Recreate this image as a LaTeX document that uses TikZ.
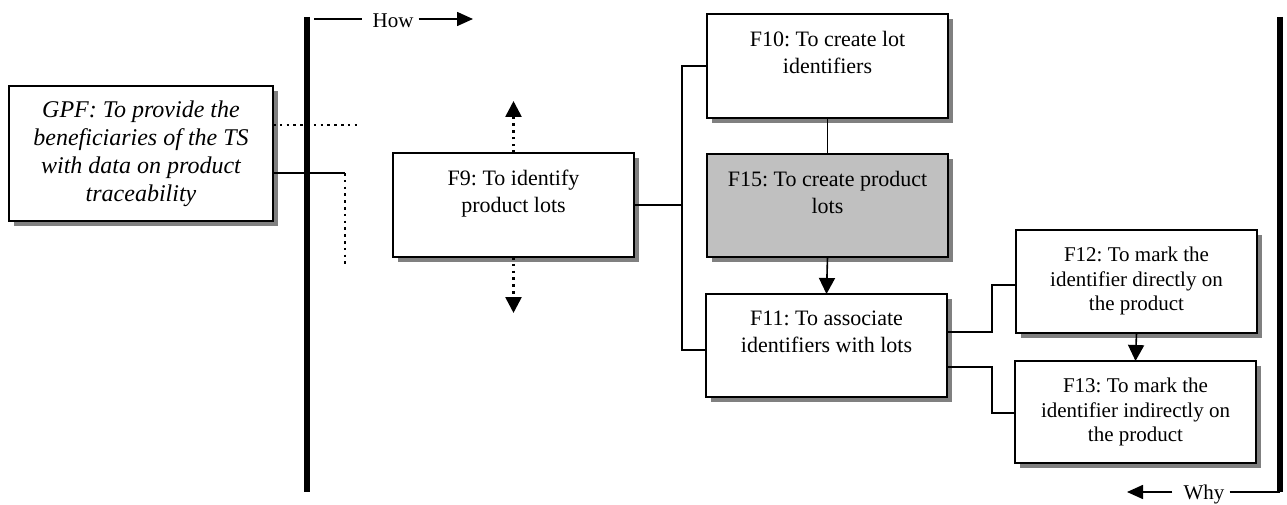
\documentclass[tikz,border=0pt]{standalone}
\usepackage{fontspec}
\setmainfont{Liberation Serif}
\usetikzlibrary{arrows.meta,shadows,calc}
\definecolor{shadowgray}{RGB}{128,128,128}
\definecolor{boxgray}{RGB}{192,192,192}
\frenchspacing
\begin{document}
\begin{tikzpicture}[x=1pt,y=-1pt,
  box/.style={draw, line width=1.8pt, fill=white, inner sep=0pt, outer sep=0pt,
    minimum width=241pt, minimum height=103pt,
    drop shadow={shadow xshift=5pt, shadow yshift=-5pt, fill=shadowgray, opacity=1}},
  txt/.style={align=center, inner sep=0pt, font=\fontsize{22}{27}\selectfont},
  smalltxt/.style={align=center, inner sep=0pt, font=\fontsize{21}{24.5}\selectfont},
  conn/.style={line width=1.6pt},
  dotline/.style={line width=2.6pt, dash pattern=on 2.6pt off 4.2pt},
  bar/.style={line width=6pt},
  arr/.style={-{Triangle[length=16pt,width=16pt]}},
  dotarr/.style={dotline, -{Triangle[length=16pt,width=16pt]}},
  lbl/.style={inner sep=0pt, font=\fontsize{21}{25}\selectfont}
]
\useasboundingbox (0,0) rectangle (1287,505);

% boxes
\node[box, minimum width=264pt, minimum height=135pt] (gpf) at (141,153.5) {};
\node[align=center, inner sep=0pt, font=\fontsize{24}{28}\selectfont\itshape] (tgpf) at (gpf.center)
  {GPF: To provide the\\beneficiaries of the TS\\with data on product\\traceability};
\node[box, minimum height=104pt] (f9) at (513.5,205) {};
\node[txt, anchor=north] (t9) at (513.5,170) {F9: To identify\\product lots};
\node[box, minimum height=104pt] (f10) at (827.5,66) {};
\node[txt, anchor=north] (t10) at (827.5,31) {F10: To create lot\\identifiers};
\node[box, fill=boxgray] (f15) at (827.5,205.5) {};
\node[txt, anchor=north] (t15) at (827.5,171) {F15: To create product\\lots};
\node[box] (f11) at (826.5,345.5) {};
\node[txt, anchor=north] (t11) at (826.5,311) {F11: To associate\\identifiers with lots};
\node[box] (f12) at (1136.5,281.5) {};
\node[smalltxt, anchor=north] (t12) at (1136.5,247) {F12: To mark the\\identifier directly on\\the product};
\node[box, minimum height=102pt] (f13) at (1135.5,412) {};
\node[smalltxt, anchor=north] (t13) at (1135.5,378) {F13: To mark the\\identifier indirectly on\\the product};

% bars
\coordinate (lbT) at (307,17);
\coordinate (lbB) at (307,492);
\coordinate (rbT) at (1280,17);
\coordinate (rbB) at (1280,492);
\draw[bar] (lbT) -- (lbB);
\draw[bar] (rbT) -- (rbB);

% How / Why
\node[lbl] (how) at (393,21) {How};
\draw[conn] (314,19) -- ([xshift=-10pt]how.west |- 0,19);
\draw[conn, -{Triangle[length=16pt,width=14pt]}] ([xshift=5pt]how.east |- 0,19) -- (473,19);
\node[lbl] (why) at (1204,494) {Why};
\draw[conn, -{Triangle[length=16pt,width=14pt]}] ([xshift=-11pt]why.west |- 0,492) -- (1127,492);
\draw[conn] ([xshift=5pt]why.east |- 0,492) -- (rbB);

% GPF connectors
\coordinate (dotEnd) at (359,125);
\coordinate (gpfJ) at (345,173);
\coordinate (gpfJB) at (345,267);
\draw[dotline] (gpf.east |- dotEnd) -- (dotEnd);
\draw[conn] (gpf.east |- gpfJ) -- (gpfJ);
\draw[dotline] (gpfJ) -- (gpfJB);

% F9 dotted arrows
\draw[dotarr] (f9.north) -- ++(0,-52);
\draw[dotarr] (f9.south) -- ++(0,56);

% F9 tree
\coordinate (j) at (682,205);
\draw[conn] (f9.east) -- (j);
\draw[conn] (f10.west) -| (682,350) -- (f11.west |- 0,350);
\draw[conn] (f10.south) -- (f15.north);
\draw[conn, arr] (f15.south) -- (f11.north);

% F11 tree
\draw[conn] (f11.east |- 0,332) -| (992,285) -- (f12.west |- 0,285);
\draw[conn] (f11.east |- 0,367) -| (992,413) -- (f13.west |- 0,413);
\draw[conn, arr] (f12.south) -- (f13.north);
\end{tikzpicture}
\end{document}
